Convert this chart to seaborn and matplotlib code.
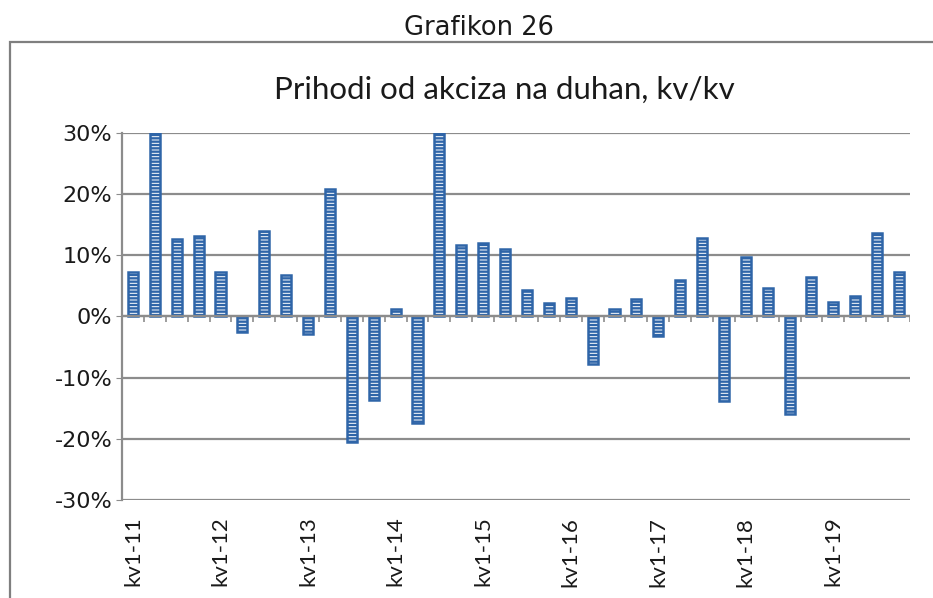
import numpy as np
import pandas as pd
import matplotlib
matplotlib.use('Agg')
import matplotlib.pyplot as plt
from matplotlib.patches import Rectangle
from matplotlib.ticker import FuncFormatter
import seaborn as sns

years = ['11', '12', '13', '14', '15', '16', '17', '18', '19']
quarters = ['kv1', 'kv2', 'kv3', 'kv4']
periods = [q + '-' + y for y in years for q in quarters]
growth = [7.3, 30.0, 12.7, 13.2, 7.3, -2.5, 14.0, 6.8, -2.8, 20.9,
          -20.5, -13.6, 1.3, -17.4, 30.0, 11.7, 12.0, 11.0, 4.4, 2.2,
          3.0, -7.8, 1.3, 2.8, -3.2, 6.0, 12.8, -13.8, 9.8, 4.6,
          -16.0, 6.5, 2.4, 3.4, 13.6, 7.2]

df = pd.DataFrame({'period': periods, 'growth': growth})

sns.set_style('white')
plt.rcParams['font.family'] = ['Lato', 'DejaVu Sans']
plt.rcParams['hatch.linewidth'] = 1.7

grid_col = '#8c8c8c'
bar_col = '#2f65a8'

fig = plt.figure(figsize=(9.33, 5.98), dpi=100)
ax = fig.add_axes([0.1308, 0.1639, 0.8445, 0.6137])

sns.barplot(data=df, x='period', y='growth', color='white', width=0.46,
            edgecolor=bar_col, linewidth=1.8, ax=ax)
for p in ax.patches:
    p.set_hatch('-----')
    p.set_facecolor('white')
    p.set_edgecolor(bar_col)

ax.set_ylim(-30, 30)
ax.set_xlim(-0.5, len(periods) - 0.5)
ax.set_yticks(np.arange(-30, 31, 10))
ax.yaxis.set_major_formatter(FuncFormatter(lambda v, _: '%d%%' % v))
ax.grid(axis='y', color=grid_col, linewidth=1.6)
ax.set_axisbelow(True)

# category separators on the zero line
ax.axhline(0, color=grid_col, linewidth=1.6, zorder=1)
ax.vlines(np.arange(-0.5, len(periods)), -0.9, 0, color=grid_col, linewidth=1.2, zorder=1)

show = [i for i, p in enumerate(periods) if p.startswith('kv1')]
ax.set_xticks(show)
ax.set_xticklabels([periods[i] for i in show], rotation=90, fontsize=16)
ax.tick_params(axis='x', length=0, pad=12, labelcolor='#1a1a1a')
ax.tick_params(axis='y', length=4, color=grid_col, left=True, pad=3, labelcolor='#1a1a1a')
for lab in ax.get_yticklabels():
    lab.set_family(['DejaVu Sans'])
    lab.set_fontsize(16)
ax.set_xlabel('')
ax.set_ylabel('')

for s in ['top', 'right', 'bottom']:
    ax.spines[s].set_visible(False)
ax.spines['left'].set_color(grid_col)
ax.spines['left'].set_linewidth(1.6)

fig.text(0.513, 0.953, 'Grafikon 26', ha='center', va='center', fontsize=18.5,
         family=['DejaVu Sans'], color='#1a1a1a')
fig.text(0.541, 0.850, 'Prihodi od akciza na duhan, kv/kv', ha='center', va='center',
         fontsize=22.5, color='#1a1a1a')

frame = Rectangle((10 / 933, -0.05), 1.2, (598 - 42) / 598 + 0.05, transform=fig.transFigure,
                  fill=False, edgecolor='#7f7f7f', linewidth=1.6, clip_on=False)
fig.patches.append(frame)

fig.savefig('out.png', dpi=100)
